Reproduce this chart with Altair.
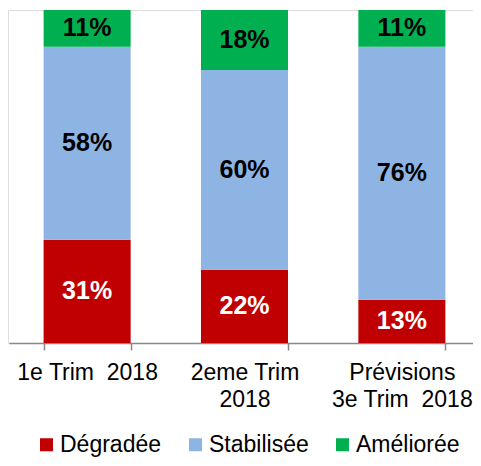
import altair as alt
import pandas as pd

categories = ["1e Trim\u00a0 2018", "2eme Trim\n2018", "Prévisions\n3e Trim\u00a0 2018"]
series = ["Dégradée", "Stabilisée", "Améliorée"]
degradee = [31, 22, 13]
stabilisee = [58, 60, 76]
amelioree = [11, 18, 11]
colors = ["#C00000", "#8EB4E3", "#00B050"]

rows = []
for i, c in enumerate(categories):
    for j, (s, vals) in enumerate(zip(series, [degradee, stabilisee, amelioree])):
        rows.append({"cat": c, "serie": s, "val": vals[i], "ord": j})
df = pd.DataFrame(rows)

FONT = "Liberation Sans"

base = alt.Chart(df).transform_stack(
    stack="val", groupby=["cat"], as_=["y0", "y1"], sort=[alt.SortField("ord")]
).transform_calculate(mid="(datum.y0 + datum.y1) / 2", lab="datum.val + '%'")

xscale = alt.Scale(paddingInner=0.447, paddingOuter=0.22, range=[1, 472])

xenc = alt.X(
    "cat:N",
    sort=categories,
    title=None,
    scale=xscale,
    axis=alt.Axis(
        labelAngle=0,
        labelExpr="split(datum.label, '\\n')",
        labelFontSize=23,
        labelColor="#000000",
        labelFont=FONT,
        labelPadding=11,
        labelLineHeight=27,
        labelBaseline="top",
        tickBand="extent",
        tickSize=7,
        tickColor="#888888",
        domainColor="#888888",
        domainWidth=1.5,
        tickWidth=1.5,
    ),
)

bars = base.mark_bar().encode(
    x=xenc,
    y=alt.Y("y0:Q", scale=alt.Scale(domain=[0, 100]), axis=None),
    y2="y1:Q",
    color=alt.Color(
        "serie:N",
        scale=alt.Scale(domain=series, range=colors),
        legend=alt.Legend(
            title=None,
            orient="none",
            legendX=27,
            legendY=423,
            direction="horizontal",
            symbolType="square",
            symbolSize=169,
            symbolStrokeWidth=0,
            labelFontSize=23,
            labelFont=FONT,
            labelColor="#000000",
            columnPadding=22,
            labelOffset=2,
        ),
    ),
)

texts = base.mark_text(fontSize=25, fontWeight="bold", font=FONT).encode(
    x=alt.X("cat:N", sort=categories),
    y=alt.Y("mid:Q"),
    text="lab:N",
    color=alt.condition("datum.serie == 'Dégradée'", alt.value("#FFFFFF"), alt.value("#000000")),
)

chart = alt.layer(bars, texts).properties(
    width=465, height=333,
    autosize=alt.AutoSizeParams(type="none"),
    padding={"left": 0, "top": 2, "right": 0, "bottom": 115},
).configure_view(stroke=None).configure(font=FONT)

chart.save("out.html", embed_options={"renderer": "svg", "actions": False})
